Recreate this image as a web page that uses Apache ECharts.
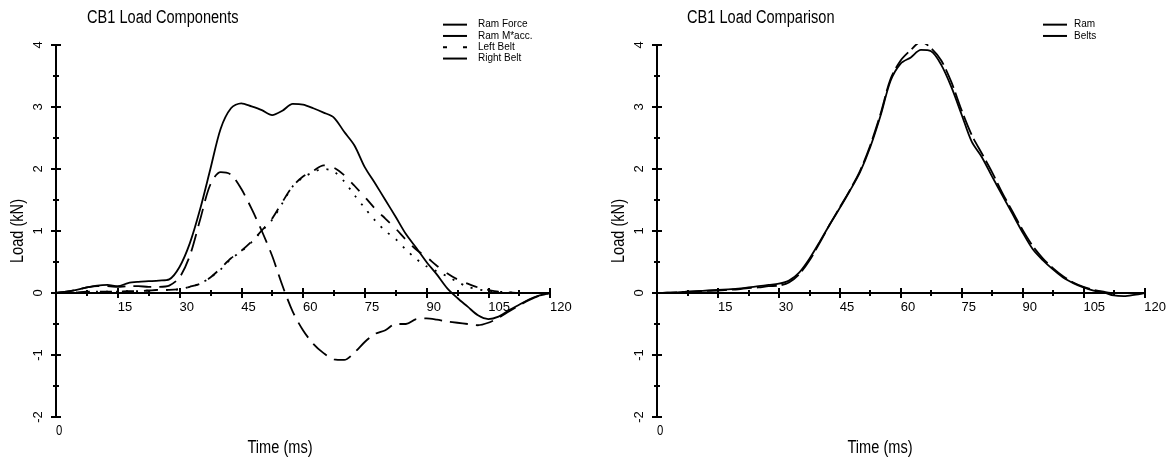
<!DOCTYPE html>
<html>
<head>
<meta charset="utf-8">
<script src="https://cdn.jsdelivr.net/npm/echarts@6/dist/echarts.min.js"></script>
<style>
html,body{margin:0;padding:0;background:#fff;}
#c{width:1169px;height:463px;}
</style>
</head>
<body>
<div id="c"></div>
<script>
// ---- data ----
const timeMs = [0,2.5,5,7.5,10,12.5,15,17.5,20,22.5,25,27.5,30,32.5,35,37.5,40,42.5,45,47.5,50,52.5,55,57.5,60,62.5,65,67.5,70,72.5,75,77.5,80,82.5,85,87.5,90,92.5,95,97.5,100,102.5,105,107.5,110,112.5,115,117.5,120];
const ramForce = [0,0.02,0.05,0.09,0.12,0.13,0.11,0.16,0.18,0.19,0.2,0.22,0.42,0.8,1.35,2.0,2.65,2.98,3.06,3.01,2.95,2.87,2.94,3.05,3.04,2.98,2.91,2.83,2.6,2.38,2.03,1.77,1.5,1.23,0.95,0.73,0.5,0.3,0.08,-0.08,-0.22,-0.36,-0.42,-0.38,-0.28,-0.19,-0.1,-0.04,0];
const ramMacc = [0,0.02,0.05,0.09,0.11,0.11,0.1,0.11,0.11,0.1,0.1,0.12,0.25,0.6,1.18,1.75,1.95,1.91,1.68,1.36,1.0,0.6,0.12,-0.3,-0.6,-0.82,-0.97,-1.07,-1.08,-0.96,-0.79,-0.66,-0.6,-0.5,-0.5,-0.42,-0.41,-0.43,-0.46,-0.48,-0.5,-0.52,-0.48,-0.4,-0.3,-0.2,-0.11,-0.04,0];
const leftBelt = [0,0,0.01,0.02,0.02,0.02,0.02,0.03,0.03,0.04,0.05,0.05,0.06,0.1,0.15,0.25,0.38,0.55,0.67,0.82,1.0,1.18,1.45,1.72,1.86,1.95,2.0,1.96,1.8,1.58,1.37,1.17,1.0,0.87,0.7,0.55,0.43,0.35,0.27,0.18,0.1,0.06,0.03,0.02,0.01,0,0,0,0];
const rightBelt = [0,0,0.01,0.02,0.02,0.02,0.02,0.03,0.03,0.04,0.05,0.05,0.06,0.1,0.15,0.25,0.4,0.56,0.68,0.83,1.01,1.2,1.47,1.72,1.88,1.97,2.06,2.02,1.9,1.73,1.55,1.36,1.2,1.04,0.86,0.7,0.58,0.44,0.32,0.22,0.15,0.09,0.05,0.02,0.01,0,0,0,0];
const ramTotal = [0,0.005,0.01,0.02,0.03,0.04,0.05,0.06,0.07,0.09,0.11,0.13,0.15,0.2,0.33,0.55,0.82,1.1,1.37,1.65,1.95,2.35,2.85,3.42,3.7,3.8,3.92,3.9,3.68,3.32,2.88,2.44,2.19,1.88,1.58,1.28,0.98,0.71,0.53,0.38,0.25,0.16,0.09,0.04,0.01,-0.04,-0.05,-0.03,0];
const beltsTotal = [0,0.005,0.01,0.02,0.03,0.035,0.04,0.05,0.06,0.08,0.09,0.11,0.12,0.17,0.3,0.52,0.8,1.1,1.38,1.66,1.97,2.38,2.88,3.45,3.75,3.92,4.05,3.95,3.75,3.4,2.95,2.55,2.25,1.95,1.62,1.32,1.02,0.76,0.56,0.4,0.27,0.17,0.1,0.05,0.02,0,0,0,0];
const xTicks = {min:0, max:120, interval:15};
const yTicks = {min:-2, max:4, interval:1};

// ---- chart ----
const FONT = "'Liberation Sans',Arial,sans-serif";
const NARROW = 0.81;
const GRID_TOP = 45, GRID_BOTTOM = 46, CHART_H = 463;
const plotH = CHART_H - GRID_TOP - GRID_BOTTOM;
// labels of an on-zero x axis are laid out from the grid bottom; shift them up to the zero line
const zeroFromBottom = plotH * (0 - yTicks.min) / (yTicks.max - yTicks.min);
const pair = (vals) => timeMs.map((t,i)=>[t, vals[i]]);

function xAxisPair(gridIndex){
  const base = {
    type:'value', gridIndex, min:xTicks.min, max:xTicks.max, interval:xTicks.interval,
    splitLine:{show:false},
    axisLine:{show:true, onZero:true, lineStyle:{color:'#000', width:2}},
    axisTick:{show:true, inside:false, length:5, lineStyle:{color:'#000', width:2}},
    minorTick:{show:true, splitNumber:2, length:3, lineStyle:{color:'#000', width:2}},
    minorSplitLine:{show:false}
  };
  return [
    Object.assign({}, base, {position:'bottom',
      axisLabel:{show:true, color:'#000', fontFamily:FONT, fontSize:13, align:'left',
        margin: 8 - zeroFromBottom,
        formatter:(v)=> v===0 ? '' : String(v)}}),
    Object.assign({}, base, {position:'top', axisLabel:{show:false}})
  ];
}
function yAxisPair(gridIndex){
  const base = {
    type:'value', gridIndex, min:yTicks.min, max:yTicks.max, interval:yTicks.interval,
    splitLine:{show:false},
    axisLine:{show:true, onZero:true, lineStyle:{color:'#000', width:2}},
    axisTick:{show:true, inside:false, length:5, lineStyle:{color:'#000', width:2}},
    minorTick:{show:true, splitNumber:2, length:3, lineStyle:{color:'#000', width:2}},
    minorSplitLine:{show:false}
  };
  return [
    Object.assign({}, base, {position:'left',
      axisLabel:{show:true, color:'#000', fontFamily:FONT, fontSize:13, rotate:90, margin:11}}),
    Object.assign({}, base, {position:'right', axisLabel:{show:false}})
  ];
}
function lineSeries(name, vals, xi, yi, type){
  return {
    name, type:'line', xAxisIndex:xi, yAxisIndex:yi, data:pair(vals),
    symbol:'none', smooth:0.3, silent:true,
    lineStyle:{color:'#000', width:1.8, type},
    itemStyle:{color:'#000'}
  };
}
function txt(text, x, y, size, extra){
  return Object.assign({type:'text', x, y, scaleX:NARROW, silent:true,
    style:Object.assign({text, fontFamily:FONT, fontSize:size, fill:'#000', align:'left', verticalAlign:'top'}, (extra&&extra.style)||{})},
    extra && extra.rotation ? {rotation:extra.rotation} : {});
}
const LINE_ICON = 'path://M0,0h24v2h-24z';
const DOT_ICON = 'path://M0,0h4v2h-4zM20,0h4v2h-4z';
const legendText = (pad) => ({fontFamily:FONT, fontSize:10, color:'#000', lineHeight:11.3, padding:[0,0,0,pad]});

const chart = echarts.init(document.getElementById('c'), null, {renderer:'canvas'});
chart.setOption({
  animation:false,
  backgroundColor:'#fff',
  legend:[
    {left:443, top:19, orient:'vertical', itemWidth:24, itemHeight:2, itemGap:0, padding:0,
     textStyle:legendText(6),
     data:[
       {name:'Ram Force', icon:LINE_ICON},
       {name:'Ram M*acc.', icon:LINE_ICON},
       {name:'Left Belt', icon:DOT_ICON},
       {name:'Right Belt', icon:LINE_ICON}
     ]},
    {left:1043, top:19, orient:'vertical', itemWidth:24, itemHeight:2, itemGap:0, padding:0,
     textStyle:legendText(2),
     data:[
       {name:'Ram', icon:LINE_ICON},
       {name:'Belts', icon:LINE_ICON}
     ]}
  ],
  grid:[
    {left:56, right:619, top:GRID_TOP, bottom:GRID_BOTTOM, containLabel:false},
    {left:657, right:19, top:GRID_TOP, bottom:GRID_BOTTOM, containLabel:false}
  ],
  xAxis:[...xAxisPair(0), ...xAxisPair(1)],
  yAxis:[...yAxisPair(0), ...yAxisPair(1)],
  series:[
    lineSeries('Ram Force', ramForce, 0, 0, 'solid'),
    lineSeries('Ram M*acc.', ramMacc, 0, 0, [18,8]),
    lineSeries('Left Belt', leftBelt, 0, 0, [2,8]),
    lineSeries('Right Belt', rightBelt, 0, 0, [12,10]),
    lineSeries('Ram', ramTotal, 2, 2, 'solid'),
    lineSeries('Belts', beltsTotal, 2, 2, [20,5])
  ],
  graphic:[
    txt('CB1 Load Components', 87, 9, 18),
    txt('CB1 Load Comparison', 687, 9, 18),
    txt('Load (kN)', 18, 231, 18, {rotation:Math.PI/2, style:{align:'center', verticalAlign:'middle'}}),
    txt('Load (kN)', 619, 231, 18, {rotation:Math.PI/2, style:{align:'center', verticalAlign:'middle'}}),
    txt('Time (ms)', 280, 448, 18, {style:{align:'center', verticalAlign:'middle'}}),
    txt('Time (ms)', 880, 448, 18, {style:{align:'center', verticalAlign:'middle'}}),
    txt('0', 56, 431, 14, {style:{verticalAlign:'middle'}}),
    txt('0', 657, 431, 14, {style:{verticalAlign:'middle'}})
  ]
});
</script>
</body>
</html>
